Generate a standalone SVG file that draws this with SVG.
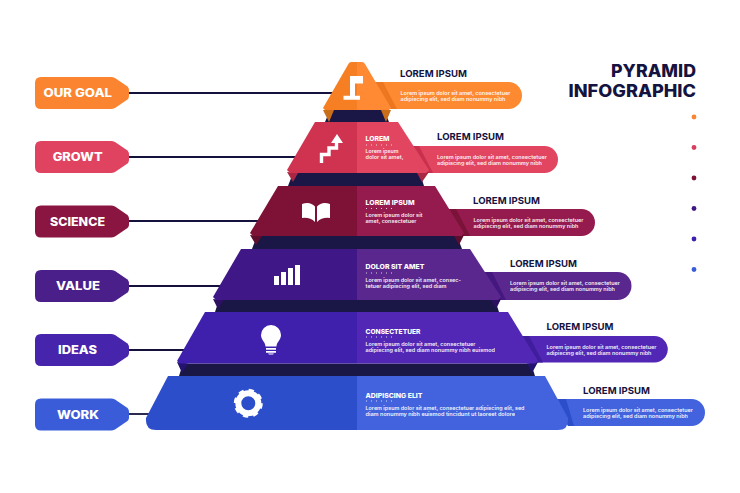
<svg xmlns="http://www.w3.org/2000/svg" width="740" height="493" viewBox="0 0 740 493">
<style>
text{font-family:"Inter","Liberation Sans",sans-serif}
.t{font-weight:700;font-size:9.4px;fill:#15133f}
.b{font-weight:600;font-size:5.2px;fill:#fff;opacity:.93}
.h{font-weight:800;font-size:6.6px;fill:#fff}
.l{font-weight:800;font-size:11.5px;fill:#fff}
.big{font-weight:800;font-size:17px;fill:#15133f}
.c{stroke:#14123c;stroke-width:1.8;fill:none}
.dots{stroke:#fff;stroke-width:1;stroke-dasharray:1 4;opacity:.8}
.i{fill:#fff}
.band{fill:#1a1746}
</style>
<defs>
<path id="tag" d="M6 0H76Q78 0 80 1L92.500 9.500Q94 11 94 13V19Q94 21 92.500 22.500L80 31Q78 32 76 32H6Q0 32 0 26V6Q0 0 6 0Z"/>
</defs>
<rect width="740" height="493" fill="#fff"/>
<g id="connectors">
<line class="c" x1="128" y1="93" x2="335" y2="93"/>
<line class="c" x1="128" y1="157" x2="305" y2="157"/>
<line class="c" x1="128" y1="221" x2="265" y2="221"/>
<line class="c" x1="128" y1="286" x2="230" y2="286"/>
<line class="c" x1="128" y1="350" x2="190" y2="350"/>
<line class="c" x1="128" y1="414" x2="155" y2="414"/>
</g>
<g id="title">
<text class="big" x="696" y="76.5" text-anchor="end" textLength="85" lengthAdjust="spacingAndGlyphs">PYRAMID</text>
<text class="big" x="696" y="97" text-anchor="end" textLength="127.5" lengthAdjust="spacingAndGlyphs">INFOGRAPHIC</text>
</g>
<g id="legend">
<circle cx="694" cy="117" r="2.4" fill="#f98432"/>
<circle cx="694" cy="147.5" r="2.4" fill="#d93f5c"/>
<circle cx="694" cy="178" r="2.4" fill="#7d1236"/>
<circle cx="694" cy="208.5" r="2.4" fill="#3f1786"/>
<circle cx="694" cy="239" r="2.4" fill="#3f20ad"/>
<circle cx="694" cy="269.5" r="2.4" fill="#3a5cd8"/>
</g>
<g id="node-goal">
<use href="#tag" x="35" y="77" fill="#fb8430"/>
<text class="l" x="43.5" y="97" textLength="68.5" lengthAdjust="spacingAndGlyphs">OUR GOAL</text>
<path d="M372 82H508.500A13.500 13.500 0 0 1 508.500 109H388Z" fill="#fd8a31"/>
<path d="M375 82H383L397 109H390Z" fill="#ec7720"/>
<path d="M330 110H384L389 122H325Z" class="band"/>
<path d="M323 110L329 122L334 110ZM381 110L386 122L391 110Z" fill="#c96f1c"/>
<path d="M349 63Q350 62 352 62H357V110H325L323 108Z" fill="#f57f22"/>
<path d="M357 62H362Q364 62 365 64L391 108L389 110H357Z" fill="#ff8a33"/>
<path class="i" d="M350 76H363V83.500H355V95.700H360V99.700H343.500V95.700H350V83.500Z"/>
<text class="t" x="400" y="77" textLength="67" lengthAdjust="spacingAndGlyphs">LOREM IPSUM</text>
<text class="b" x="400.500" y="95" textLength="110" lengthAdjust="spacingAndGlyphs">Lorem ipsum dolor sit amet, consectetuer</text>
<text class="b" x="400.500" y="101" textLength="105" lengthAdjust="spacingAndGlyphs">adipiscing elit, sed diam nonummy nibh</text>
</g>
<g id="node-growt">
<use href="#tag" x="35" y="141" fill="#e0435f"/>
<text class="l" x="52.700" y="161" textLength="50" lengthAdjust="spacingAndGlyphs">GROWT</text>
<path d="M408 146H544.500A13.500 13.500 0 0 1 544.500 173H425Z" fill="#e2455f"/>
<path d="M411 146H419L433 173H426Z" fill="#c9304d"/>
<path d="M293 173H420L424 186H288Z" class="band"/>
<path d="M287 172L293 182L298 173ZM417 173L422 182L429 172Z" fill="#a92743"/>
<path d="M315 122H357V173H290L287 170Z" fill="#cf3350"/>
<path d="M357 122H398L429 170L426 173H357Z" fill="#e2455f"/>
<path d="M321.500 163V154.500H329V148H336.500V142" fill="none" stroke="#fff" stroke-width="3.400"/>
<path class="i" d="M337 134L343 143H331Z"/>
<text class="h" x="365.500" y="141" textLength="24" lengthAdjust="spacingAndGlyphs">LOREM</text>
<line class="dots" x1="366" y1="145" x2="392" y2="145"/>
<text class="b" x="365.500" y="153" textLength="33" lengthAdjust="spacingAndGlyphs">Lorem ipsum</text>
<text class="b" x="365.500" y="159" textLength="38" lengthAdjust="spacingAndGlyphs">dolor sit amet,</text>
<text class="t" x="437" y="140" textLength="67" lengthAdjust="spacingAndGlyphs">LOREM IPSUM</text>
<text class="b" x="437" y="159" textLength="110" lengthAdjust="spacingAndGlyphs">Lorem ipsum dolor sit amet, consectetuer</text>
<text class="b" x="437" y="165" textLength="105" lengthAdjust="spacingAndGlyphs">adipiscing elit, sed diam nonummy nibh</text>
</g>
<g id="node-science">
<use href="#tag" x="35" y="205.500" fill="#8a1540"/>
<text class="l" x="50" y="225.500" textLength="55" lengthAdjust="spacingAndGlyphs">SCIENCE</text>
<path d="M445 209H581.500A13.500 13.500 0 0 1 581.500 236H462Z" fill="#951a4e"/>
<path d="M448 209H456L470 236H463Z" fill="#7b1238"/>
<path d="M257 236H457L462 249H252Z" class="band"/>
<path d="M250 235L256 245L262 236ZM454 236L459 245L464 235Z" fill="#5d0e2c"/>
<path d="M278 186H357V236H253L250 233Z" fill="#7d1236"/>
<path d="M357 186H435L464 233L461 236H357Z" fill="#951a4e"/>
<path class="i" d="M302 204Q310 201 315 206.500V222Q310 217 302 218ZM330 204Q322 201 317 206.500V222Q322 217 330 218Z"/>
<text class="h" x="365.500" y="205" textLength="49" lengthAdjust="spacingAndGlyphs">LOREM IPSUM</text>
<line class="dots" x1="366" y1="208.500" x2="396" y2="208.500"/>
<text class="b" x="365.500" y="217" textLength="57" lengthAdjust="spacingAndGlyphs">Lorem ipsum dolor sit</text>
<text class="b" x="365.500" y="223" textLength="51" lengthAdjust="spacingAndGlyphs">amet, consectetuer</text>
<text class="t" x="473" y="204" textLength="67" lengthAdjust="spacingAndGlyphs">LOREM IPSUM</text>
<text class="b" x="473.500" y="222" textLength="110" lengthAdjust="spacingAndGlyphs">Lorem ipsum dolor sit amet, consectetuer</text>
<text class="b" x="473.500" y="228" textLength="105" lengthAdjust="spacingAndGlyphs">adipiscing elit, sed diam nonummy nibh</text>
</g>
<g id="node-value">
<use href="#tag" x="35" y="270" fill="#4b1f8a"/>
<text class="l" x="56" y="290" textLength="44" lengthAdjust="spacingAndGlyphs">VALUE</text>
<path d="M481 272H617.500A14 14 0 0 1 617.500 300H498Z" fill="#5a278f"/>
<path d="M484 272H492L506 300H499Z" fill="#44187f"/>
<path d="M219 300H495L499 312H215Z" class="band"/>
<path d="M213 299L218 309L224 300ZM491 300L496 309L501 299Z" fill="#2e1060"/>
<path d="M241 249H357V300H216L213 297Z" fill="#3f1786"/>
<path d="M357 249H470L501 297L498 300H357Z" fill="#5a278f"/>
<path class="i" d="M274 276H279V285H274ZM281 272H286V285H281ZM288 268H293V285H288ZM295 265H300V285H295Z"/>
<text class="h" x="365.500" y="269" textLength="59" lengthAdjust="spacingAndGlyphs">DOLOR SIT AMET</text>
<line class="dots" x1="366" y1="273" x2="396" y2="273"/>
<text class="b" x="365.500" y="282" textLength="95.500" lengthAdjust="spacingAndGlyphs">Lorem ipsum dolor sit amet, consec-</text>
<text class="b" x="365.500" y="288" textLength="81" lengthAdjust="spacingAndGlyphs">tetuer adipiscing elit, sed diam</text>
<text class="t" x="510" y="267" textLength="67" lengthAdjust="spacingAndGlyphs">LOREM IPSUM</text>
<text class="b" x="510" y="285" textLength="110" lengthAdjust="spacingAndGlyphs">Lorem ipsum dolor sit amet, consectetuer</text>
<text class="b" x="510" y="291" textLength="105" lengthAdjust="spacingAndGlyphs">adipiscing elit, sed diam nonummy nibh</text>
</g>
<g id="node-ideas">
<use href="#tag" x="35" y="334" fill="#4625ac"/>
<text class="l" x="58" y="354" textLength="39" lengthAdjust="spacingAndGlyphs">IDEAS</text>
<path d="M518 336H654.500A13.250 13.250 0 0 1 654.500 362.500H535Z" fill="#5327b5"/>
<path d="M521 336H529L543 362.500H536Z" fill="#3f1d9c"/>
<path d="M183 363.500H531L535 376H179Z" class="band"/>
<path d="M177 362L182 373L188 363.500ZM527 363.500L532 373L538 362Z" fill="#241470"/>
<path d="M205 312H357V363.500H180L177 361Z" fill="#3f20ad"/>
<path d="M357 312H508L538 361L535 363.500H357Z" fill="#5327b5"/>
<path class="i" d="M271 325A10 10 0 0 1 281 335C281 340 276.500 342 276.500 346.500H265.500C265.500 342 261 340 261 335A10 10 0 0 1 271 325ZM266 348H276V349.800H266ZM266 351H276V352.800H266ZM268 353.500H274L273 354.500H269Z"/>
<text class="h" x="365.500" y="333.500" textLength="55" lengthAdjust="spacingAndGlyphs">CONSECTETUER</text>
<line class="dots" x1="366" y1="337" x2="396" y2="337"/>
<text class="b" x="365.500" y="345.500" textLength="110" lengthAdjust="spacingAndGlyphs">Lorem ipsum dolor sit amet, consectetuer</text>
<text class="b" x="365.500" y="351.500" textLength="129.500" lengthAdjust="spacingAndGlyphs">adipiscing elit, sed diam nonummy nibh euismod</text>
<text class="t" x="546.500" y="330" textLength="67" lengthAdjust="spacingAndGlyphs">LOREM IPSUM</text>
<text class="b" x="546.500" y="349" textLength="110" lengthAdjust="spacingAndGlyphs">Lorem ipsum dolor sit amet, consectetuer</text>
<text class="b" x="546.500" y="355" textLength="105" lengthAdjust="spacingAndGlyphs">adipiscing elit, sed diam nonummy nibh</text>
</g>
<g id="node-work">
<use href="#tag" x="35" y="398.500" fill="#3a5cd8"/>
<text class="l" x="57" y="418.500" textLength="42" lengthAdjust="spacingAndGlyphs">WORK</text>
<path d="M555 399H691.500A13.500 13.500 0 0 1 691.500 426H568Z" fill="#4263dd"/>
<path d="M558 399H566L574 426H568Z" fill="#2d4ecb"/>
<path d="M168 376H357V430H156Q145 430 146 418Z" fill="#2d4ecb"/>
<path d="M357 376H545L568 418Q569 430 558 430H357Z" fill="#4263dd"/>
<circle cx="248.300" cy="403.300" r="10" fill="none" stroke="#fff" stroke-width="6"/>
<circle cx="248.300" cy="403.300" r="12.500" fill="none" stroke="#fff" stroke-width="4" stroke-dasharray="5 4.820"/>
<text class="h" x="365.500" y="397.500" textLength="57" lengthAdjust="spacingAndGlyphs">ADIPISCING ELIT</text>
<line class="dots" x1="366" y1="401" x2="396" y2="401"/>
<text class="b" x="365.500" y="410" textLength="159" lengthAdjust="spacingAndGlyphs">Lorem ipsum dolor sit amet, consectetuer adipiscing elit, sed</text>
<text class="b" x="365.500" y="416" textLength="149.500" lengthAdjust="spacingAndGlyphs">diam nonummy nibh euismod tincidunt ut laoreet dolore</text>
<text class="t" x="583" y="393.500" textLength="67" lengthAdjust="spacingAndGlyphs">LOREM IPSUM</text>
<text class="b" x="583" y="412" textLength="110" lengthAdjust="spacingAndGlyphs">Lorem ipsum dolor sit amet, consectetuer</text>
<text class="b" x="583" y="418" textLength="105" lengthAdjust="spacingAndGlyphs">adipiscing elit, sed diam nonummy nibh</text>
</g>
</svg>
